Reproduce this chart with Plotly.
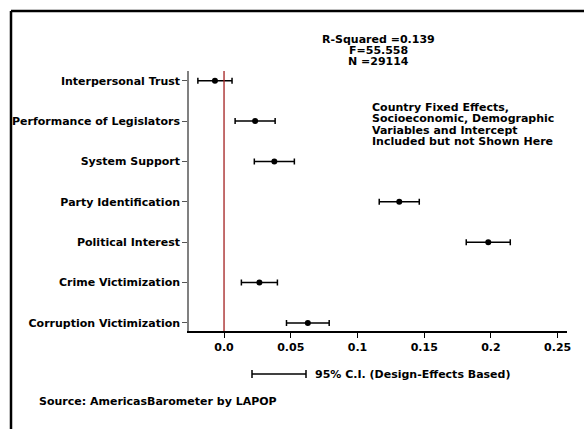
import plotly.graph_objects as go

categories = ["Interpersonal Trust", "Performance of Legislators", "System Support",
              "Party Identification", "Political Interest", "Crime Victimization",
              "Corruption Victimization"]
coef = [-0.0068, 0.0233, 0.0377, 0.1313, 0.1980, 0.0265, 0.0628]
ci_half = [0.0128, 0.0150, 0.0150, 0.0150, 0.0165, 0.0135, 0.0160]
x_ticks = [0.0, 0.05, 0.1, 0.15, 0.2, 0.25]
x_ticklabels = ["0.0", "0.05", "0.1", "0.15", "0.2", "0.25"]
stats_lines = ["R-Squared =0.139", "F=55.558", "N =29114"]
note_lines = ["Country Fixed Effects,", "Socioeconomic, Demographic",
              "Variables and Intercept", "Included but not Shown Here"]
legend_text = "95% C.I. (Design-Effects Based)"
source_text = "Source: AmericasBarometer by LAPOP"

W, H = 584, 429
L, R, T, B = 189, 567, 71, 331
FONT = "DejaVu Sans, Liberation Sans, Arial, sans-serif"
FS = 11


def px(x):
    return (x - L) / (R - L)


def py(y):
    return (B - y) / (B - T)


fig = go.Figure()
fig.add_trace(go.Scatter(
    x=coef, y=categories, mode="markers",
    marker=dict(color="black", size=6),
    error_x=dict(type="data", array=ci_half, color="black", thickness=1.5, width=3),
    showlegend=False, hoverinfo="skip",
))

ncat = len(categories)
tickfont = dict(family=FONT, size=FS, color="black", weight="bold")
fig.update_layout(
    width=W, height=H,
    margin=dict(l=L, r=W - R, t=T, b=H - B, pad=0),
    paper_bgcolor="white", plot_bgcolor="white",
    font=dict(family=FONT, size=FS, color="black"),
    xaxis=dict(range=[-0.02625, 0.257], tickvals=x_ticks, ticktext=x_ticklabels,
               showgrid=False, zeroline=False, showline=True, linecolor="black",
               linewidth=1.5, ticks="outside", ticklen=5, tickcolor="black",
               tickfont=tickfont),
    yaxis=dict(categoryorder="array", categoryarray=categories[::-1],
               range=[-0.2, ncat - 1 + 0.24],
               showgrid=False, zeroline=False, showline=True, linecolor="#808080",
               linewidth=1.5, ticks="outside", ticklen=5, tickcolor="#555555",
               tickfont=tickfont),
)

# reference line at zero
fig.add_shape(type="line", xref="x", yref="paper", x0=0, x1=0, y0=0, y1=1,
              line=dict(color="#a31f1f", width=1.3))

# outer frame (cropped box)
fig.add_shape(type="line", xref="paper", yref="paper",
              x0=px(11), x1=px(W + 5), y0=py(11), y1=py(11),
              line=dict(color="black", width=2.5))
fig.add_shape(type="line", xref="paper", yref="paper",
              x0=px(11), x1=px(11), y0=py(11), y1=py(H + 5),
              line=dict(color="black", width=2.5))

# legend key error bar
ly = py(374)
fig.add_shape(type="line", xref="paper", yref="paper", x0=px(252), x1=px(306),
              y0=ly, y1=ly, line=dict(color="black", width=1.5))
for xx in (252, 306):
    fig.add_shape(type="line", xref="paper", yref="paper", x0=px(xx), x1=px(xx),
                  y0=py(370), y1=py(378), line=dict(color="black", width=1.5))

bold = dict(family=FONT, size=FS, color="black", weight="bold")
for i, s in enumerate(stats_lines):
    fig.add_annotation(xref="paper", yref="paper", x=px(378), y=py(39.3 + 11.2 * i),
                       text=s, showarrow=False, xanchor="center", yanchor="middle",
                       font=bold)
for i, s in enumerate(note_lines):
    fig.add_annotation(xref="paper", yref="paper", x=px(370), y=py(107.3 + 11.4 * i),
                       text=s, showarrow=False, xanchor="left", yanchor="middle",
                       font=bold)
fig.add_annotation(xref="paper", yref="paper", x=px(313), y=ly, text=legend_text,
                   showarrow=False, xanchor="left", yanchor="middle", font=bold)
fig.add_annotation(xref="paper", yref="paper", x=px(37), y=py(401), text=source_text,
                   showarrow=False, xanchor="left", yanchor="middle", font=bold)

fig.write_html("out.html")
